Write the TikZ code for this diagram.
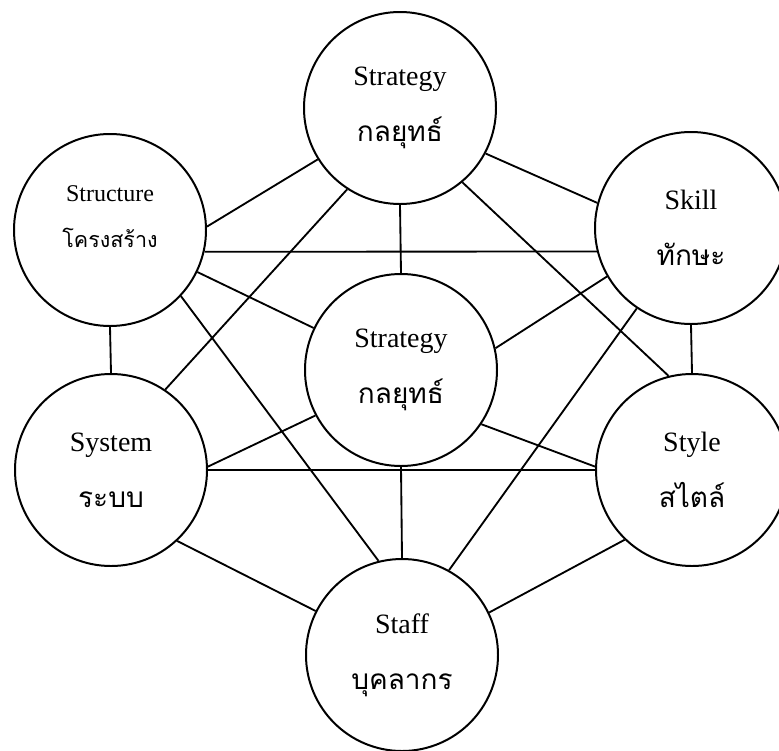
\documentclass[tikz,border=0pt]{standalone}
\usepackage{fontspec}
\setmainfont{Liberation Serif}
\newfontfamily\thaifont[Script=Thai]{Loma}
\tikzset{
  element/.style={draw, circle, line width=0.7mm, minimum size=192pt, inner sep=0pt,
    align=center, font=\fontsize{28}{56}\selectfont},
  small/.style={font=\fontsize{24}{46}\selectfont, text depth=27pt},
  link/.style={line width=0.65mm},
}
\def\twoline#1#2{#1\\{\thaifont #2}}

\begin{document}
\begin{tikzpicture}[x=1pt,y=-1pt]
%%%%% START %%%%%
\useasboundingbox (0,0) rectangle (779,750);

\node[element] (strat) at (400,108) {\twoline{Strategy}{กลยุทธ์}};
\node[element, small] (struct) at (110,230) {\twoline{Structure}{\fontsize{21.5}{46}\selectfont โครงสร้าง}};
\node[element] (skill) at (691,228) {\twoline{Skill}{ทักษะ}};
\node[element] (core) at (401,370) {\twoline{Strategy}{กลยุทธ์}};
\node[element] (sys) at (111,470) {\twoline{System}{ระบบ}};
\node[element] (styl) at (692,470) {\twoline{Style}{สไตล์}};
\node[element] (staff) at (402,655) {\twoline{Staff}{บุคลากร}};

% top row
\draw[link] (struct.2) -- (strat.212);
\draw[link] (strat.332) -- (skill.165);
\draw[link] (struct.347) -- (skill.194);
\draw[link] (strat.south) -- (core.north);
\draw[link] (struct) -- (core);
\draw[link] (skill.210) -- (core.13);

% long diagonals
\draw[link] (strat.237) -- (sys.56);
\draw[link] (strat.310) -- (styl.104);
\draw[link] (struct.317) -- (staff.104);
\draw[link] (skill.236) -- (staff.61);

% sides
\draw[link] (struct.south) -- (sys.north);
\draw[link] (skill.south) -- (styl.north);

% bottom row
\draw[link] (sys.2) -- (core.208);
\draw[link] (core.326) -- (styl.178);
\draw[link] (sys.east) -- (styl.west);
\draw[link] (core.south) -- (staff.north);
\draw[link] (sys.313) -- (staff.153);
\draw[link] (styl.226) -- (staff.26);
%%%%% END %%%%%
\end{tikzpicture}
\end{document}
